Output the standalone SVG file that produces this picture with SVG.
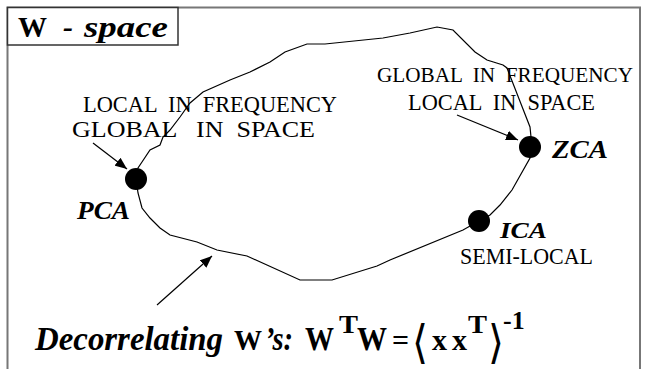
<svg xmlns="http://www.w3.org/2000/svg" width="645" height="369" viewBox="0 0 645 369">
<defs>
<style>
.t{font-family:"Liberation Serif","Times New Roman",serif;fill:#000;white-space:pre}
.b{font-weight:bold}
.i{font-style:italic}
.lbl{font-size:24px}
.dot{fill:#000}
.ln{fill:none;stroke:#000;stroke-width:1.2}
.br{font-family:"DejaVu Serif","DejaVu Sans",serif;fill:#000}
</style>
<marker id="ah" viewBox="0 0 12 10" refX="12" refY="5" markerWidth="12" markerHeight="10" markerUnits="userSpaceOnUse" orient="auto">
<path d="M0,0 L12,5 L0,10 Z" fill="#000"/>
</marker>
</defs>
<rect width="645" height="369" fill="#fff"/>
<path d="M7.5,369 V7.5 H640 V369" fill="none" stroke="#777" stroke-width="2"/>
<g id="title">
<rect x="7.5" y="7.5" width="170.5" height="37.5" fill="#fff" stroke="#333" stroke-width="1.5"/>
<text class="t b" x="18" y="37" font-size="30" textLength="29" lengthAdjust="spacingAndGlyphs">W</text>
<text class="t b i" x="63" y="37" font-size="30">-</text>
<text class="t b i" x="84" y="37" font-size="30" textLength="84" lengthAdjust="spacingAndGlyphs">space</text>
</g>
<g id="connectors">
<path id="w-space-curve" class="ln" d="M136,179 L138,168 L142,162 L150,150 L160,145 L163,137 L170,130 L180,117 L190,103 L203,92 L230,80 L250,72 L270,62 L285,52 L307,44 L325,44 L383,38 L410,33 L437,27 L453,30 L475,52 L487,60 L503,65 L507,68 L530,127 L531,137 L530,158 L512,190 L500,205 L490,215 L479,221 L463,230 L390,260 L377,266 L332,280 L300,280 L247,256 L217,250 L197,242 L170,235 L160,228 L150,218 L142,208 L138,193 Z"/>
<line class="ln" x1="93" y1="143" x2="127" y2="169" marker-end="url(#ah)"/>
<line class="ln" x1="457" y1="115" x2="518" y2="140" marker-end="url(#ah)"/>
<line class="ln" x1="157" y1="305" x2="212" y2="256" marker-end="url(#ah)"/>
</g>
<g id="pca">
<circle class="dot" cx="136" cy="179" r="11"/>
<text class="t b i" x="77" y="219" font-size="25" textLength="53" lengthAdjust="spacingAndGlyphs">PCA</text>
<text class="t lbl" x="83" y="112" textLength="254" lengthAdjust="spacingAndGlyphs">LOCAL  IN  FREQUENCY</text>
<text class="t lbl" x="72" y="137" textLength="243" lengthAdjust="spacingAndGlyphs">GLOBAL   IN  SPACE</text>
</g>
<g id="zca">
<circle class="dot" cx="530" cy="147" r="11"/>
<text class="t b i" x="552" y="158" font-size="25" textLength="56" lengthAdjust="spacingAndGlyphs">ZCA</text>
<text class="t" x="377" y="82" font-size="21" textLength="256" lengthAdjust="spacingAndGlyphs">GLOBAL  IN  FREQUENCY</text>
<text class="t lbl" x="408" y="110" textLength="187" lengthAdjust="spacingAndGlyphs">LOCAL  IN  SPACE</text>
</g>
<g id="ica">
<circle class="dot" cx="479" cy="221" r="11"/>
<text class="t b i" x="500" y="238" font-size="23" textLength="47" lengthAdjust="spacingAndGlyphs">ICA</text>
<text class="t lbl" x="460" y="264" textLength="133" lengthAdjust="spacingAndGlyphs">SEMI-LOCAL</text>
</g>
<g id="formula">
<text class="t b i" x="35" y="350" font-size="34" textLength="188" lengthAdjust="spacingAndGlyphs">Decorrelating</text>
<text class="t b" x="234" y="350" font-size="30" textLength="28" lengthAdjust="spacingAndGlyphs">W</text>
<text class="t b i" x="265" y="350" font-size="34" textLength="28" lengthAdjust="spacingAndGlyphs">’s:</text>
<text class="t b" x="305" y="350" font-size="34" textLength="29" lengthAdjust="spacingAndGlyphs">W</text>
<text class="t b" x="339" y="333" font-size="26" textLength="19" lengthAdjust="spacingAndGlyphs">T</text>
<text class="t b" x="357" y="350" font-size="34" textLength="30" lengthAdjust="spacingAndGlyphs">W</text>
<text class="t b" x="392" y="350" font-size="30">=</text>
<text class="br" x="412" y="358" font-size="46" textLength="16" lengthAdjust="spacingAndGlyphs">⟨</text>
<text class="t b" x="432" y="350" font-size="30">x</text>
<text class="t b" x="452" y="350" font-size="30">x</text>
<text class="t b" x="468" y="333" font-size="26" textLength="19" lengthAdjust="spacingAndGlyphs">T</text>
<text class="br" x="488" y="358" font-size="46" textLength="16" lengthAdjust="spacingAndGlyphs">⟩</text>
<text class="t b" x="503" y="329" font-size="26">-1</text>
</g>
</svg>
